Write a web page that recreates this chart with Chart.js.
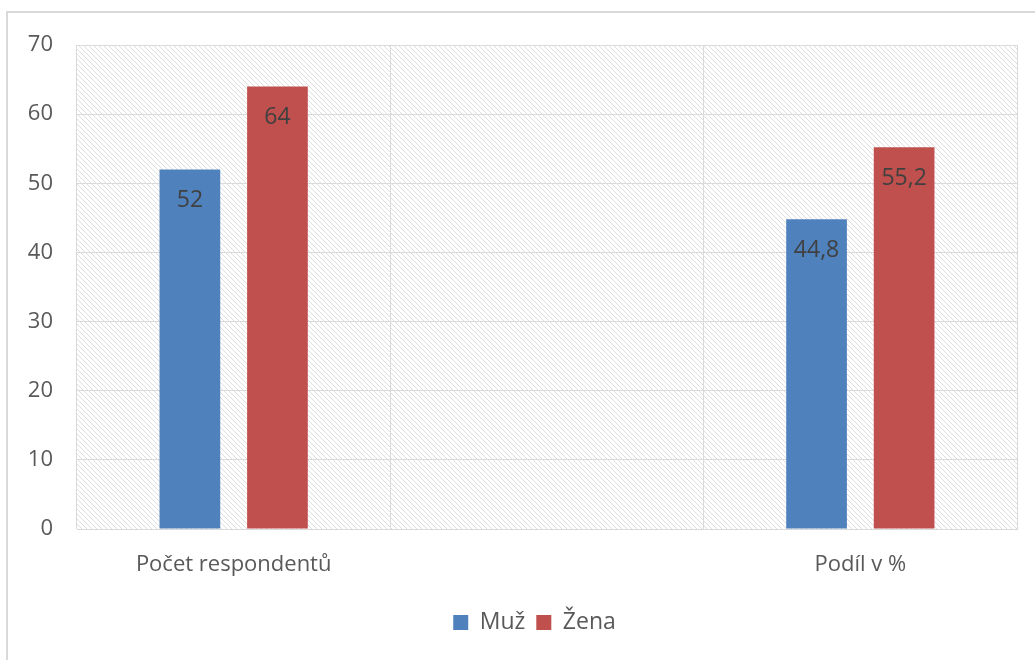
<!DOCTYPE html>
<html>
<head>
<meta charset="utf-8">
<script src="https://cdn.jsdelivr.net/npm/chart.js@4"></script>
<style>
  html, body { margin: 0; padding: 0; background: #fff; }
  #wrap { position: relative; width: 1035px; height: 660px; overflow: hidden; }
  #frame { position: absolute; left: 6px; top: 11px; width: 1100px; height: 700px;
           border-top: 2px solid #d9d9d9; border-left: 2px solid #d9d9d9; }
  #c { position: absolute; left: 0; top: 0; }
</style>
</head>
<body>
<div id="wrap">
  <div id="frame"></div>
  <canvas id="c" width="1035" height="660"></canvas>
</div>
<script>
// Kategorie a hodnoty
const categories = ['Počet respondentů', '', 'Podíl v %'];
const muz = [52, null, 44.8];
const zena = [64, null, 55.2];
const yTicks = [0, 10, 20, 30, 40, 50, 60, 70];

const FONT = '"Open Sans", Lato, sans-serif';
const GRID = '#d9d9d9';

// šrafované pozadí plochy grafu
const hatchBg = {
  id: 'hatchBg',
  beforeDatasetsDraw(chart) {
    const { ctx, chartArea: a } = chart;
    ctx.save();
    ctx.beginPath();
    ctx.rect(a.left, a.top, a.right - a.left, a.bottom - a.top);
    ctx.clip();
    ctx.strokeStyle = '#dedede';
    ctx.lineWidth = 1;
    const h = a.bottom - a.top;
    ctx.beginPath();
    for (let x = a.left - h; x < a.right + 5; x += 5) {
      ctx.moveTo(x, a.top);
      ctx.lineTo(x + h, a.bottom);
    }
    ctx.stroke();
    ctx.restore();
  }
};

// popisky hodnot uvnitř sloupců
const valueLabels = {
  id: 'valueLabels',
  afterDatasetsDraw(chart) {
    const { ctx } = chart;
    ctx.save();
    ctx.font = '23px ' + FONT;
    ctx.fillStyle = '#404040';
    ctx.textAlign = 'center';
    ctx.textBaseline = 'middle';
    chart.data.datasets.forEach((ds, i) => {
      chart.getDatasetMeta(i).data.forEach((el, j) => {
        const v = ds.data[j];
        if (v == null) return;
        ctx.fillText(String(v).replace('.', ','), el.x, el.y + 31);
      });
    });
    ctx.restore();
  }
};

// legenda posunutá mírně doprava
const legendShift = {
  id: 'legendShift',
  afterLayout(chart) {
    if (chart.legend) {
      chart.legend.left += 26;
      chart.legend.right += 26;
    }
  }
};

new Chart(document.getElementById('c'), {
  type: 'bar',
  data: {
    labels: categories,
    datasets: [
      { label: 'Muž', data: muz, backgroundColor: '#4f81bd',
        categoryPercentage: 0.559, barPercentage: 0.693 },
      { label: 'Žena', data: zena, backgroundColor: '#c0504d',
        categoryPercentage: 0.559, barPercentage: 0.693 }
    ]
  },
  options: {
    responsive: false,
    animation: false,
    layout: { padding: { left: 0, right: 18, top: 45, bottom: 16 } },
    plugins: {
      legend: {
        position: 'bottom',
        labels: {
          boxWidth: 15, boxHeight: 15, padding: 11,
          color: '#595959', font: { family: FONT, size: 23 }
        }
      },
      tooltip: { enabled: false }
    },
    scales: {
      x: {
        grid: { color: GRID, lineWidth: 1, drawTicks: false, offset: true },
        border: { color: GRID },
        ticks: { color: '#595959', font: { family: FONT, size: 22 }, padding: 23 },
        afterFit(s) { s.height = 71; }
      },
      y: {
        min: 0, max: 70,
        afterBuildTicks(s) { s.ticks = yTicks.map(v => ({ value: v })); },
        grid: { color: GRID, lineWidth: 1, drawTicks: false },
        border: { display: false },
        ticks: { color: '#595959', font: { family: FONT, size: 22 }, padding: 24 },
        afterFit(s) { s.width = 77; }
      }
    }
  },
  plugins: [hatchBg, valueLabels, legendShift]
});
</script>
</body>
</html>
